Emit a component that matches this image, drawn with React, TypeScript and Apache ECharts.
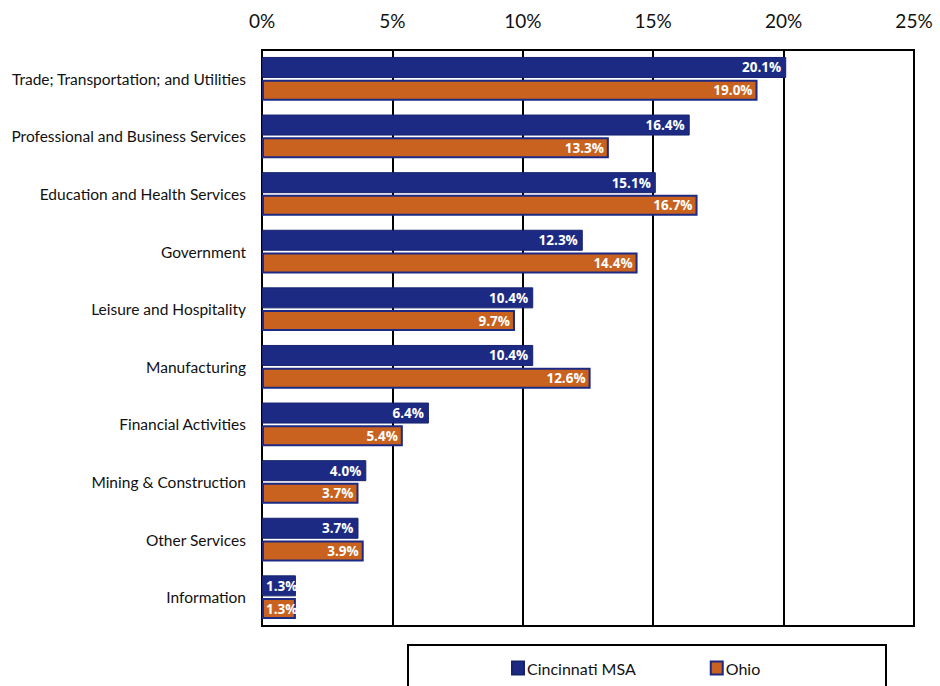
import React, { useEffect, useRef } from "react";
import * as echarts from "echarts";

const categories = [
  "Trade; Transportation; and Utilities",
  "Professional and Business Services",
  "Education and Health Services",
  "Government",
  "Leisure and Hospitality",
  "Manufacturing",
  "Financial Activities",
  "Mining & Construction",
  "Other Services",
  "Information",
];
const cincinnati = [20.1, 16.4, 15.1, 12.3, 10.4, 10.4, 6.4, 4.0, 3.7, 1.3];
const ohio = [19.0, 13.3, 16.7, 14.4, 9.7, 12.6, 5.4, 3.7, 3.9, 1.3];
const seriesNames = ["Cincinnati MSA", "Ohio"];

const NAVY = "#1c2a84";
const ORANGE = "#c8621e";

function makeData(vals: number[]) {
  return vals.map((v) =>
    v < 2
      ? { value: v, label: { position: "insideLeft", distance: 4 } }
      : { value: v }
  );
}

export default function App() {
  const ref = useRef<HTMLDivElement>(null);
  useEffect(() => {
    document.body.style.margin = "0";
    if (!ref.current) return;
    const chart = echarts.init(ref.current, null, { renderer: "svg" });
    const label = {
      show: true,
      position: "insideRight",
      distance: 5,
      color: "#ffffff",
      fontWeight: "bold",
      fontSize: 13.5,
      fontFamily: "Open Sans",
      formatter: (p: any) => p.value.toFixed(1) + "%",
    };
    chart.setOption({
      animation: false,
      backgroundColor: "#ffffff",
      textStyle: { fontFamily: "Lato" },
      grid: {
        left: 262,
        right: 26,
        top: 50,
        bottom: 60,
        show: true,
        borderColor: "#000000",
        borderWidth: 2,
        backgroundColor: "transparent",
      },
      xAxis: {
        type: "value",
        position: "top",
        min: 0,
        max: 25,
        interval: 5,
        axisLine: { show: false },
        axisTick: { show: false },
        splitLine: { show: true, lineStyle: { color: "#000000", width: 2 } },
        axisLabel: {
          formatter: (v: number) => v + "%",
          fontSize: 19,
          color: "#111111",
          fontFamily: "Lato",
          margin: 20,
        },
      },
      yAxis: {
        type: "category",
        inverse: true,
        data: categories,
        axisLine: { show: true, lineStyle: { color: "#000000", width: 2 } },
        axisTick: { show: false },
        axisLabel: {
          fontSize: 15.5,
          color: "#111111",
          fontFamily: "Lato",
          margin: 16,
        },
      },
      legend: {
        data: seriesNames,
        left: 506,
        top: 655,
        itemWidth: 12,
        itemHeight: 13,
        itemGap: 74,
        icon: "rect",
        textStyle: { fontSize: 16, color: "#111111", fontFamily: "Lato", padding: [0, 0, 0, -2] },
        z: 10,
      },
      graphic: [
        {
          type: "rect",
          shape: { x: 408, y: 645, width: 478, height: 60 },
          style: { fill: "#ffffff", stroke: "#000000", lineWidth: 2 },
          z: 1,
        },
      ],
      series: [
        {
          name: seriesNames[0],
          type: "bar",
          data: makeData(cincinnati),
          barWidth: 21,
          barGap: "8%",
          itemStyle: { color: NAVY, borderColor: "#17236e", borderWidth: 1 },
          label,
        },
        {
          name: seriesNames[1],
          type: "bar",
          data: makeData(ohio),
          barWidth: 21,
          barGap: "8%",
          itemStyle: { color: ORANGE, borderColor: NAVY, borderWidth: 2 },
          label,
        },
      ],
    });
    return () => chart.dispose();
  }, []);
  return <div ref={ref} style={{ width: 940, height: 686 }} />;
}
